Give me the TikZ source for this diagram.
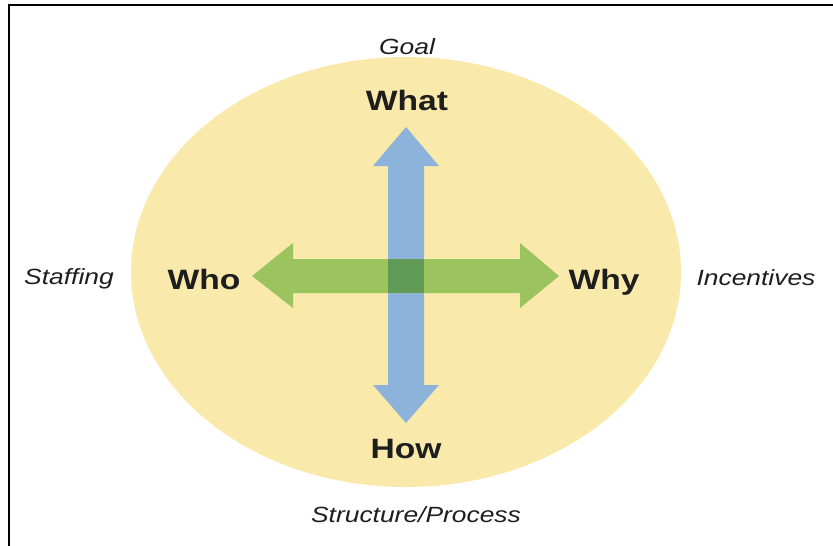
\documentclass[tikz,border=0pt]{standalone}
\usepackage{fontspec}
\setmainfont{Liberation Sans}
\newfontfamily\labfont[FakeStretch=1.2]{Liberation Sans}
\definecolor{ellfill}{HTML}{F9E9AB}
\definecolor{arrblue}{HTML}{8DB3DA}
\definecolor{arrgreen}{HTML}{9CC45E}
\definecolor{overlap}{HTML}{5F9B57}
\definecolor{txt}{HTML}{1E1E1E}
\tikzset{
  dimtext/.style={font=\labfont\itshape\fontsize{22}{24}\selectfont, text=txt, inner sep=0pt, anchor=base},
  keytext/.style={font=\labfont\bfseries\fontsize{28}{30}\selectfont, text=txt, inner sep=0pt, anchor=base},
}
\begin{document}
\begin{tikzpicture}[x=1pt,y=-1pt]
\useasboundingbox (0,0) rectangle (833,546);
% frame
\draw[line width=2.5pt] (9,546) -- (9,5) -- (833,5);
% ellipse
\fill[ellfill] (406,272) ellipse [x radius=275, y radius=215];
% vertical arrow
\fill[arrblue] (406,127) -- (439,166) -- (424,166) -- (424,385) -- (439,385) -- (406,423)
  -- (373,385) -- (388,385) -- (388,166) -- (373,166) -- cycle;
% horizontal arrow
\fill[arrgreen] (252,276) -- (293,243) -- (293,259) -- (520,259) -- (520,243) -- (559,276)
  -- (520,308) -- (520,293) -- (293,293) -- (293,308) -- cycle;
% overlap
\fill[overlap] (388,259) rectangle (424,293);
% labels
\node[keytext] (what) at (407,110) {What};
\node[keytext] (how) at (406,458) {How};
\node[keytext] (who) at (204,289) {Who};
\node[keytext] (why) at (604,289) {Why};
\node[dimtext] (goal) at (407,54) {Goal};
\node[dimtext] (struct) at (416,522) {Structure/Process};
\node[dimtext] (staff) at (69,284) {Staffing};
\node[dimtext] (incent) at (756,285) {Incentives};
\end{tikzpicture}
\end{document}
